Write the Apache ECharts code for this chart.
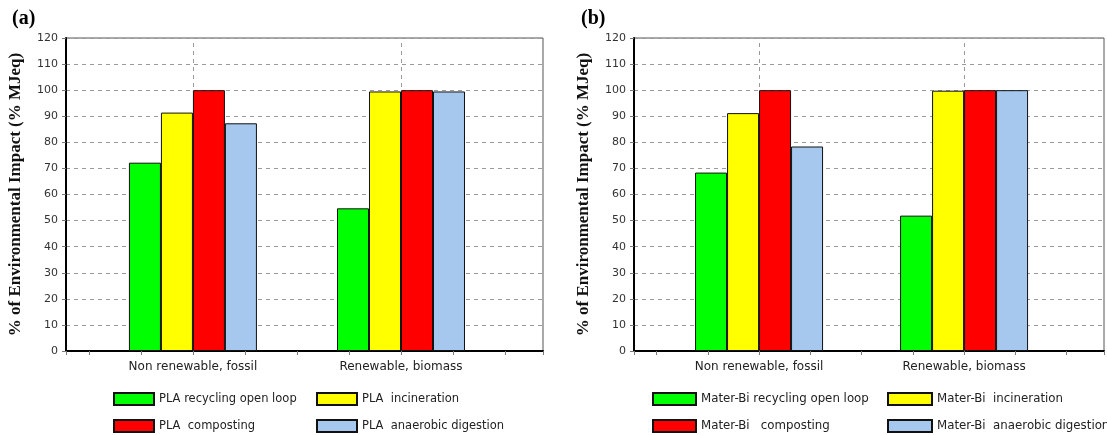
<!DOCTYPE html>
<html><head><meta charset="utf-8">
<script src="https://cdn.jsdelivr.net/npm/echarts@6/dist/echarts.min.js"></script>
<style>html,body{margin:0;padding:0;background:#fff}#c{width:1107px;height:435px}</style>
</head><body><div id="c"></div>
<script>
// ---- data ----
const categories = ['Non renewable, fossil', 'Renewable, biomass'];
const groupPos = [3, 7];            // x positions of the two groups on the x scale
const yMin = 0, yMax = 120, yStep = 10;
const namesA = ['PLA recycling open loop', 'PLA  incineration', 'PLA  composting', 'PLA  anaerobic digestion'];
const namesB = ['Mater-Bi recycling open loop', 'Mater-Bi  incineration', 'Mater-Bi   composting', 'Mater-Bi  anaerobic digestion'];
const plaRecycling   = [72.2, 54.7];
const plaIncineration = [91.4, 99.5];
const plaComposting  = [100, 100];
const plaAnaerobic   = [87.3, 99.5];
const materRecycling   = [68.4, 51.9];
const materIncineration = [91.2, 99.8];
const materComposting  = [100, 100];
const materAnaerobic   = [78.4, 100];
const yTitle = '% of Environmental Impact (% MJeq)';
const panelLabels = ['(a)', '(b)'];

// ---- styling ----
const colors = ['#00ff00', '#ffff00', '#ff0000', '#a6c8ee'];
const sans = 'DejaVu Sans';
const serif = 'Liberation Serif';

function xAxisFor(gi) {
  return {
    type: 'value', gridIndex: gi, min: 0.56, max: 9.73,
    minInterval: 1, maxInterval: 1, splitNumber: 9,
    axisLine: { show: true, onZero: false, lineStyle: { color: '#000', width: 2 } },
    axisTick: { show: true, length: 4, lineStyle: { color: '#777' } },
    axisLabel: {
      margin: 10, fontFamily: sans, fontSize: 12, color: '#222',
      formatter: v => { const i = groupPos.findIndex(g => Math.abs(g - v) < 1e-6); return i >= 0 ? categories[i] : ''; }
    },
    splitLine: { show: false }
  };
}
function yAxisFor(gi) {
  return {
    type: 'value', gridIndex: gi, min: yMin, max: yMax, interval: yStep,
    name: yTitle, nameLocation: 'middle', nameGap: 42,
    nameTextStyle: { fontFamily: serif, fontWeight: 'bold', fontSize: 17, color: '#111' },
    axisLine: { show: true, lineStyle: { color: '#000', width: 2 } },
    axisTick: { show: true, length: 4, lineStyle: { color: '#777' } },
    axisLabel: { margin: 8, fontFamily: sans, fontSize: 11, color: '#333' },
    splitLine: { show: true, lineStyle: { color: '#9a9a9a', width: 1, type: [4, 4] } }
  };
}
function seriesFor(gi, names, arrays) {
  const list = names.map((n, k) => ({
    name: n, type: 'bar', xAxisIndex: gi, yAxisIndex: gi,
    barWidth: 32, barGap: '0%',
    itemStyle: { color: colors[k], borderColor: '#111', borderWidth: 1 },
    data: arrays[k].map((v, i) => [groupPos[i], v]),
    animation: false, z: 3
  }));
  // vertical dashed guide lines at the group centres
  list.push({
    name: 'guides' + gi, type: 'line', xAxisIndex: gi, yAxisIndex: gi, data: [],
    silent: true, z: 1,
    markLine: {
      silent: true, symbol: ['none', 'none'], z: 1, animation: false,
      label: { show: false },
      lineStyle: { color: '#9a9a9a', width: 1, type: [4, 4] },
      data: groupPos.map(g => ({ xAxis: g }))
    }
  });
  return list;
}
function legendCol(names, left, fontSize, itemWidth) {
  return {
    data: names, left: left, top: 392, orient: 'vertical', itemGap: 13, padding: 0,
    itemWidth: itemWidth, itemHeight: 12, icon: 'rect', selectedMode: false,
    textStyle: { fontFamily: sans, fontSize: fontSize, color: '#222' }
  };
}

const chart = echarts.init(document.getElementById('c'), null, { renderer: 'canvas' });
chart.setOption({
  backgroundColor: '#fff',
  animation: false,
  title: [
    { text: panelLabels[0], left: 7, top: 4, textStyle: { fontFamily: serif, fontWeight: 'bold', fontSize: 20, color: '#000' } },
    { text: panelLabels[1], left: 576, top: 4, textStyle: { fontFamily: serif, fontWeight: 'bold', fontSize: 20, color: '#000' } }
  ],
  grid: [
    { left: 66, top: 38, width: 477, height: 313, show: true, borderColor: '#555', borderWidth: 1, backgroundColor: 'transparent' },
    { left: 634, top: 38, width: 477, height: 313, show: true, borderColor: '#555', borderWidth: 1, backgroundColor: 'transparent' }
  ],
  xAxis: [xAxisFor(0), xAxisFor(1)],
  yAxis: [yAxisFor(0), yAxisFor(1)],
  legend: [
    legendCol([namesA[0], namesA[2]], 113, 11.5, 40),
    legendCol([namesA[1], namesA[3]], 316, 11.5, 40),
    legendCol([namesB[0], namesB[2]], 652, 11.8, 43),
    legendCol([namesB[1], namesB[3]], 887, 11.8, 44)
  ],
  series: [
    ...seriesFor(0, namesA, [plaRecycling, plaIncineration, plaComposting, plaAnaerobic]),
    ...seriesFor(1, namesB, [materRecycling, materIncineration, materComposting, materAnaerobic])
  ]
});
</script></body></html>
